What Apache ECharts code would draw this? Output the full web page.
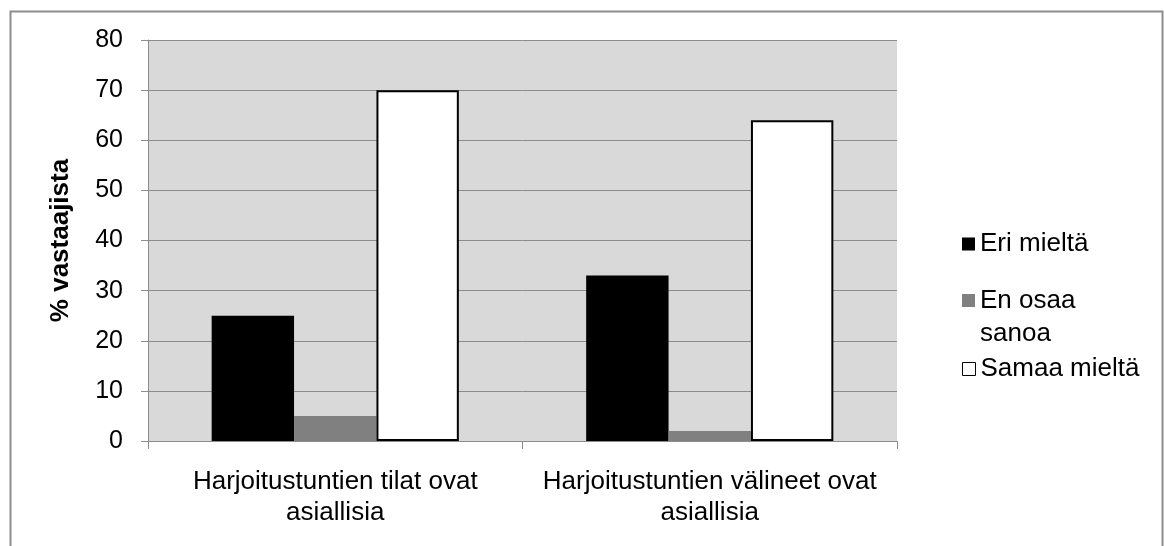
<!DOCTYPE html>
<html lang="fi">
<head>
<meta charset="UTF-8">
<title>Harjoitustunnit</title>
<script src="https://cdn.jsdelivr.net/npm/echarts@6/dist/echarts.min.js"></script>
<style>
  html, body { margin: 0; padding: 0; background: #fff; }
  #chart { width: 1164px; height: 546px; }
</style>
</head>
<body>
<div id="chart"></div>
<script>
// data
const categories = ['Harjoitustuntien tilat ovat\nasiallisia', 'Harjoitustuntien välineet ovat\nasiallisia'];
const eriMielta = [25, 33];
const enOsaaSanoa = [5, 2];
const samaaMielta = [70, 64];
const yTicks = { min: 0, max: 80, interval: 10 };

const font = 'Liberation Sans, Arial, sans-serif';

const legendText = { fontSize: 26, color: '#000', fontFamily: font };

const chart = echarts.init(document.getElementById('chart'));
chart.setOption({
    animation: false,
    backgroundColor: '#fff',
    textStyle: { fontFamily: font },
    graphic: [{
        type: 'rect',
        shape: { x: 10.5, y: 11.5, width: 1152, height: 560 },
        style: { fill: 'none', stroke: '#8c8c8c', lineWidth: 2 },
        silent: true
    }],
    grid: { left: 148, right: 267, top: 40, bottom: 105 },
    legend: [
        {
            data: ['Eri mieltä'], left: 957, top: 226,
            icon: 'rect', itemWidth: 13, itemHeight: 13,
            textStyle: legendText
        },
        {
            // blank first line keeps "En osaa" level with its marker
            data: ['En osaa sanoa'], left: 957, top: 246,
            icon: 'rect', itemWidth: 13, itemHeight: 13,
            formatter: () => ' \nEn osaa\nsanoa',
            textStyle: Object.assign({}, legendText, { lineHeight: 33 })
        },
        {
            data: ['Samaa mieltä'], left: 957, top: 351,
            icon: 'rect', itemWidth: 13, itemHeight: 13,
            itemStyle: { borderColor: '#000', borderWidth: 1 },
            textStyle: legendText
        }
    ],
    xAxis: {
        type: 'category',
        data: categories,
        axisLine: { lineStyle: { color: '#8c8c8c', width: 1 } },
        axisTick: { show: true, length: 8, lineStyle: { color: '#8c8c8c' } },
        axisLabel: { color: '#000', fontSize: 26, lineHeight: 31, margin: 25, fontFamily: font, interval: 0 }
    },
    yAxis: {
        type: 'value',
        min: yTicks.min, max: yTicks.max, interval: yTicks.interval,
        name: '% vastaajista',
        nameLocation: 'middle',
        nameGap: 74,
        nameRotate: 90,
        nameTextStyle: { fontSize: 26, fontWeight: 'bold', color: '#000', fontFamily: font },
        axisLine: { show: true, lineStyle: { color: '#8c8c8c' } },
        axisTick: { show: true, length: 7, lineStyle: { color: '#8c8c8c' } },
        axisLabel: { color: '#000', fontSize: 25, margin: 25, fontFamily: font },
        splitLine: { lineStyle: { color: '#8c8c8c', width: 1 } },
        splitArea: { show: true, areaStyle: { color: ['#d9d9d9', '#d9d9d9'] } }
    },
    series: [
        {
            name: 'Eri mieltä', type: 'bar', data: eriMielta,
            barGap: '0%', barCategoryGap: '34%',
            itemStyle: { color: '#000' }
        },
        {
            name: 'En osaa sanoa', type: 'bar', data: enOsaaSanoa,
            itemStyle: { color: '#808080' }
        },
        {
            name: 'Samaa mieltä', type: 'bar', data: samaaMielta,
            itemStyle: { color: '#fff', borderColor: '#000', borderWidth: 2 }
        }
    ]
});
</script>
</body>
</html>
